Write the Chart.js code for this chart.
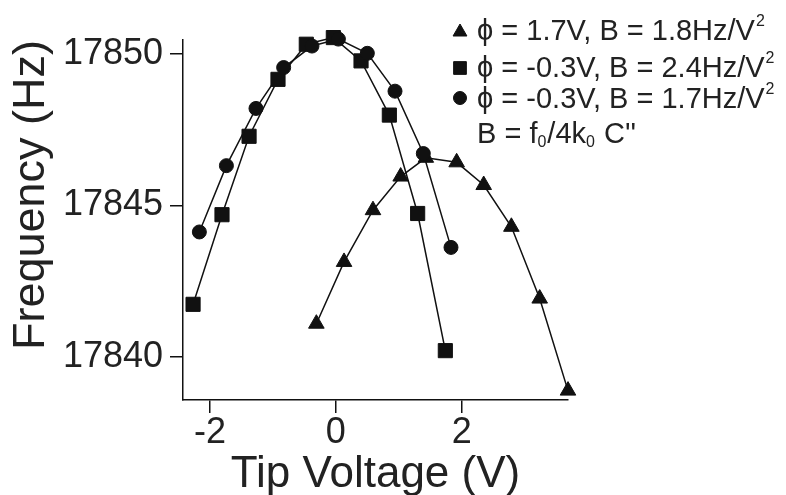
<!DOCTYPE html>
<html><head><meta charset="utf-8">
<script src="https://cdn.jsdelivr.net/npm/chart.js@4.4.0/dist/chart.umd.min.js"></script>
<style>html,body{margin:0;padding:0;background:#fff;} canvas{display:block;}</style>
</head><body>
<canvas id="c" width="786" height="495"></canvas>
<script>
// ---- data ----
const xTicks = [-2, 0, 2];
const yTicks = [17840, 17845, 17850];

const triV = [-0.31, 0.13, 0.59, 1.03, 1.43, 1.92, 2.35, 2.79, 3.24, 3.69];
const triF = [17841.09, 17843.13, 17844.84, 17845.95, 17846.57, 17846.42, 17845.67, 17844.29, 17841.92, 17838.88];

const sqV = [-2.27, -1.81, -1.38, -0.92, -0.47, -0.04, 0.40, 0.85, 1.30, 1.74];
const sqF = [17841.73, 17844.69, 17847.28, 17849.16, 17850.32, 17850.54, 17849.77, 17847.98, 17844.73, 17840.20];

const cirV = [-2.17, -1.74, -1.27, -0.83, -0.38, 0.04, 0.50, 0.94, 1.39, 1.83];
const cirF = [17844.12, 17846.31, 17848.20, 17849.55, 17850.26, 17850.49, 17850.02, 17848.77, 17846.71, 17843.61];

const seriesLabels = ["ϕ = 1.7V, B = 1.8Hz/V", "ϕ = -0.3V, B = 2.4Hz/V", "ϕ = -0.3V, B = 1.7Hz/V"];
const seriesStyles = ["triangle", "rect", "circle"];
const noteParts = ["B = f", "0", "/4k", "0", " C''"];

const xTitle = "Tip Voltage (V)";
const yTitle = "Frequency (Hz)";

// ---- rendering ----
const FONT = "'Liberation Sans', Arial, Helvetica, sans-serif";
const INK = '#111';
const TXT = '#222';
const pts = (xs, ys) => xs.map((x, i) => ({x, y: ys[i]}));

function ds(label, xs, ys, style, radius) {
  return {
    label, data: pts(xs, ys), showLine: true, tension: 0,
    borderColor: INK, borderWidth: 1.5, backgroundColor: INK,
    pointStyle: style, pointRadius: radius, pointHoverRadius: radius,
    pointBackgroundColor: INK, pointBorderColor: INK, pointBorderWidth: 1,
    clip: false
  };
}

const legendPlugin = {
  id: 'customLegend',
  afterDraw(chart) {
    const ctx = chart.ctx;
    ctx.save();
    const markerY = [32, 68, 98];
    const baseY = [40, 77, 108];
    const radii = [8, 9, 6.5];
    for (let i = 0; i < 3; i++) {
      ctx.fillStyle = INK; ctx.strokeStyle = INK; ctx.lineWidth = 1;
      Chart.helpers.drawPoint(ctx, {pointStyle: seriesStyles[i], radius: radii[i], borderWidth: 1}, 460, markerY[i]);
      ctx.fillStyle = TXT;
      ctx.textBaseline = 'alphabetic';
      ctx.textAlign = 'left';
      ctx.font = '29px ' + FONT;
      ctx.fillText(seriesLabels[i], 477, baseY[i]);
      const w = ctx.measureText(seriesLabels[i]).width;
      ctx.font = '16px ' + FONT;
      ctx.fillText('2', 477 + w + 1, baseY[i] - 14);
    }
    // note line
    let x = 477;
    const by = 143;
    noteParts.forEach((t, i) => {
      const sub = (i === 1 || i === 3);
      ctx.font = (sub ? '16px ' : '29px ') + FONT;
      ctx.fillText(t, x, sub ? by + 4 : by);
      x += ctx.measureText(t).width + (sub ? 1 : 0);
    });
    ctx.restore();
  }
};

new Chart(document.getElementById('c'), {
  type: 'scatter',
  data: {
    datasets: [
      ds(seriesLabels[2], cirV, cirF, 'circle', 7),
      ds(seriesLabels[1], sqV, sqF, 'rect', 10),
      ds(seriesLabels[0], triV, triF, 'triangle', 9)
    ]
  },
  options: {
    responsive: false,
    animation: false,
    devicePixelRatio: 1,
    layout: {padding: {top: 40, right: 218, left: 0, bottom: 0}},
    plugins: {legend: {display: false}, tooltip: {enabled: false}},
    scales: {
      x: {
        type: 'linear', min: -2.43, max: 3.69,
        afterBuildTicks: s => { s.ticks = xTicks.map(v => ({value: v})); },
        afterFit: s => { s.height = 95; },
        grid: {drawOnChartArea: false, drawTicks: true, tickLength: 13, color: INK, lineWidth: 1.5},
        border: {display: true, color: INK, width: 1.5},
        ticks: {color: TXT, padding: 2, font: {family: FONT, size: 36, lineHeight: 1}, callback: v => String(v)},
        title: {display: true, text: xTitle, color: TXT, font: {family: FONT, size: 44, lineHeight: 1}, padding: {top: 0, bottom: -2}}
      },
      y: {
        type: 'linear', min: 17838.57, max: 17850.46,
        afterBuildTicks: s => { s.ticks = yTicks.map(v => ({value: v})); },
        afterFit: s => { s.width = 183; },
        grid: {drawOnChartArea: false, drawTicks: true, tickLength: 13, color: INK, lineWidth: 1.5},
        border: {display: true, color: INK, width: 1.5},
        ticks: {color: TXT, padding: 7, font: {family: FONT, size: 36}, callback: v => String(v)},
        title: {display: true, text: yTitle, align: 'end', color: TXT, font: {family: FONT, size: 45, lineHeight: 1}, padding: {top: 9, bottom: 0}}
      }
    }
  },
  plugins: [legendPlugin]
});
</script>
</body></html>
